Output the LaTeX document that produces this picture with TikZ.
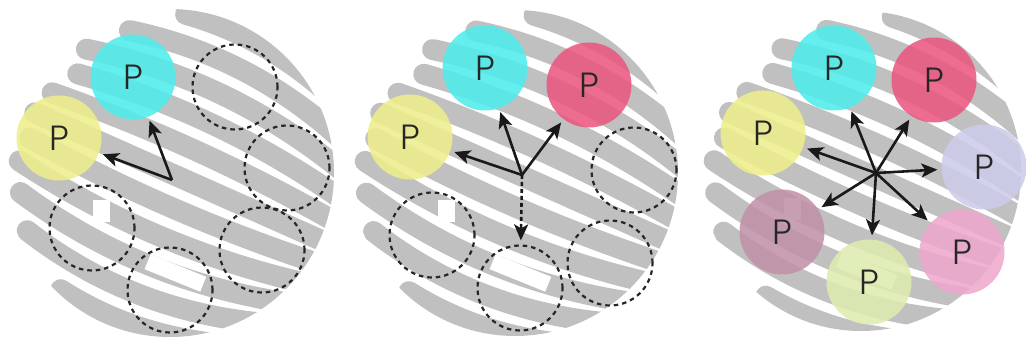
\documentclass[tikz,border=0pt]{standalone}
\usepackage{fontspec}
\IfFontExistsTF{Poppins Light}{\setmainfont{Poppins Light}}{\setmainfont{Poppins}}
\usetikzlibrary{arrows.meta}
\definecolor{blobgray}{RGB}{192,192,192}
\definecolor{pcyan}{RGB}{80,236,236}
\definecolor{pyellow}{RGB}{238,238,140}
\definecolor{pred}{RGB}{234,88,128}
\definecolor{plav}{RGB}{204,204,234}
\definecolor{pmauve}{RGB}{192,146,168}
\definecolor{pgreen}{RGB}{222,236,176}
\definecolor{ppink}{RGB}{238,168,204}
\tikzset{
  pcirc/.style={circle, minimum size=85pt, inner sep=0pt, fill opacity=0.88, text opacity=1,
    text=black!85, font=\fontsize{35}{35}\selectfont},
  dcirc/.style={circle, minimum size=85pt, inner sep=0pt, draw=black!85, line width=2.2pt,
    dash pattern=on 4.5pt off 4pt},
  arr/.style={draw=black!90, line width=2.6pt, -{Stealth[length=16pt,width=14pt,inset=4pt]}, shorten >=4pt},
  darr/.style={arr, dash pattern=on 4pt off 3pt},
  stripe/.style={blobgray, line width=21pt, line cap=round},
}
\newcommand\myblob[3]{%
  \begin{scope}[shift={(#1,#2)}]
    \begin{scope}
      \clip (0,0) circle (#3);
      \begin{scope}[rotate=-24]
        \foreach \v/\a in {-155/4,-124/16,-93/8,-62/22,-31/12,0/6,31/10,62/4,93/6,124/4,155/2} {
          \pgfmathsetmacro\L{10*sqrt(max((#3/10)^2-(\v/10)^2,0))}
          \pgfmathsetmacro\ve{\v*(1-0.25*(\L/#3)^2)}
          \pgfmathsetmacro\Lb{10*sqrt(max((#3/10)^2-(\ve/10)^2,0))}
          \pgfmathsetmacro\us{-\Lb+10+\a}
          \draw[stripe] plot[domain=\us:#3, samples=30, smooth] (\x,{\v*(1-0.25*(\x/#3)^2)});
        }
      \end{scope}
    \end{scope}
    \fill[white] (-77,27) rectangle (-60,49);
    \fill[white, rotate around={-22:(0,100)}] (-25,90) rectangle (35,106);
  \end{scope}}
\begin{document}
\begin{tikzpicture}[x=1pt,y=-1pt]
\useasboundingbox (0,0) rectangle (1026,344);
% backgrounds
\myblob{170}{173}{164}
\myblob{515}{173}{163}
\myblob{861}{171}{160}
% ---------- panel 1
\node[dcirc] (d1a) at (235,87) {};
\node[dcirc] (d1b) at (287,168) {};
\node[dcirc] (d1c) at (92,228) {};
\node[dcirc] (d1d) at (170,290) {};
\node[dcirc] (d1e) at (262,250) {};
\node[pcirc, fill=pyellow] (y1) at (59,138) {P};
\node[pcirc, fill=pcyan] (c1) at (133,77) {P};
\coordinate (o1) at (172,180);
\draw[arr] (o1) -- (c1);
\draw[arr] (o1) -- (y1);
% ---------- panel 2
\node[dcirc] (d2a) at (634,170) {};
\node[dcirc] (d2b) at (432,235) {};
\node[dcirc] (d2c) at (520,288) {};
\node[dcirc] (d2d) at (610,263) {};
\node[pcirc, fill=pyellow] (y2) at (410,137) {P};
\node[pcirc, fill=pcyan] (c2) at (485,68) {P};
\node[pcirc, fill=pred] (r2) at (589,85) {P};
\coordinate (o2) at (522,175);
\draw[arr] (o2) -- (y2);
\draw[arr] (o2) -- (c2);
\draw[arr] (o2) -- (r2);
\draw[darr] (o2) -- (d2c);
% ---------- panel 3
\node[pcirc, fill=pcyan] (c3) at (834,68) {P};
\node[pcirc, fill=pred] (r3) at (934,80) {P};
\node[pcirc, fill=pyellow] (y3) at (763,133) {P};
\node[pcirc, fill=plav] (l3) at (984,167) {P};
\node[pcirc, fill=pmauve] (m3) at (782,232) {P};
\node[pcirc, fill=pgreen] (g3) at (869,282) {P};
\node[pcirc, fill=ppink] (k3) at (962,252) {P};
\coordinate (o3) at (876,173);
\foreach \t in {c3,r3,y3,l3,m3,g3,k3} \draw[arr] (o3) -- (\t);
\end{tikzpicture}
\end{document}
